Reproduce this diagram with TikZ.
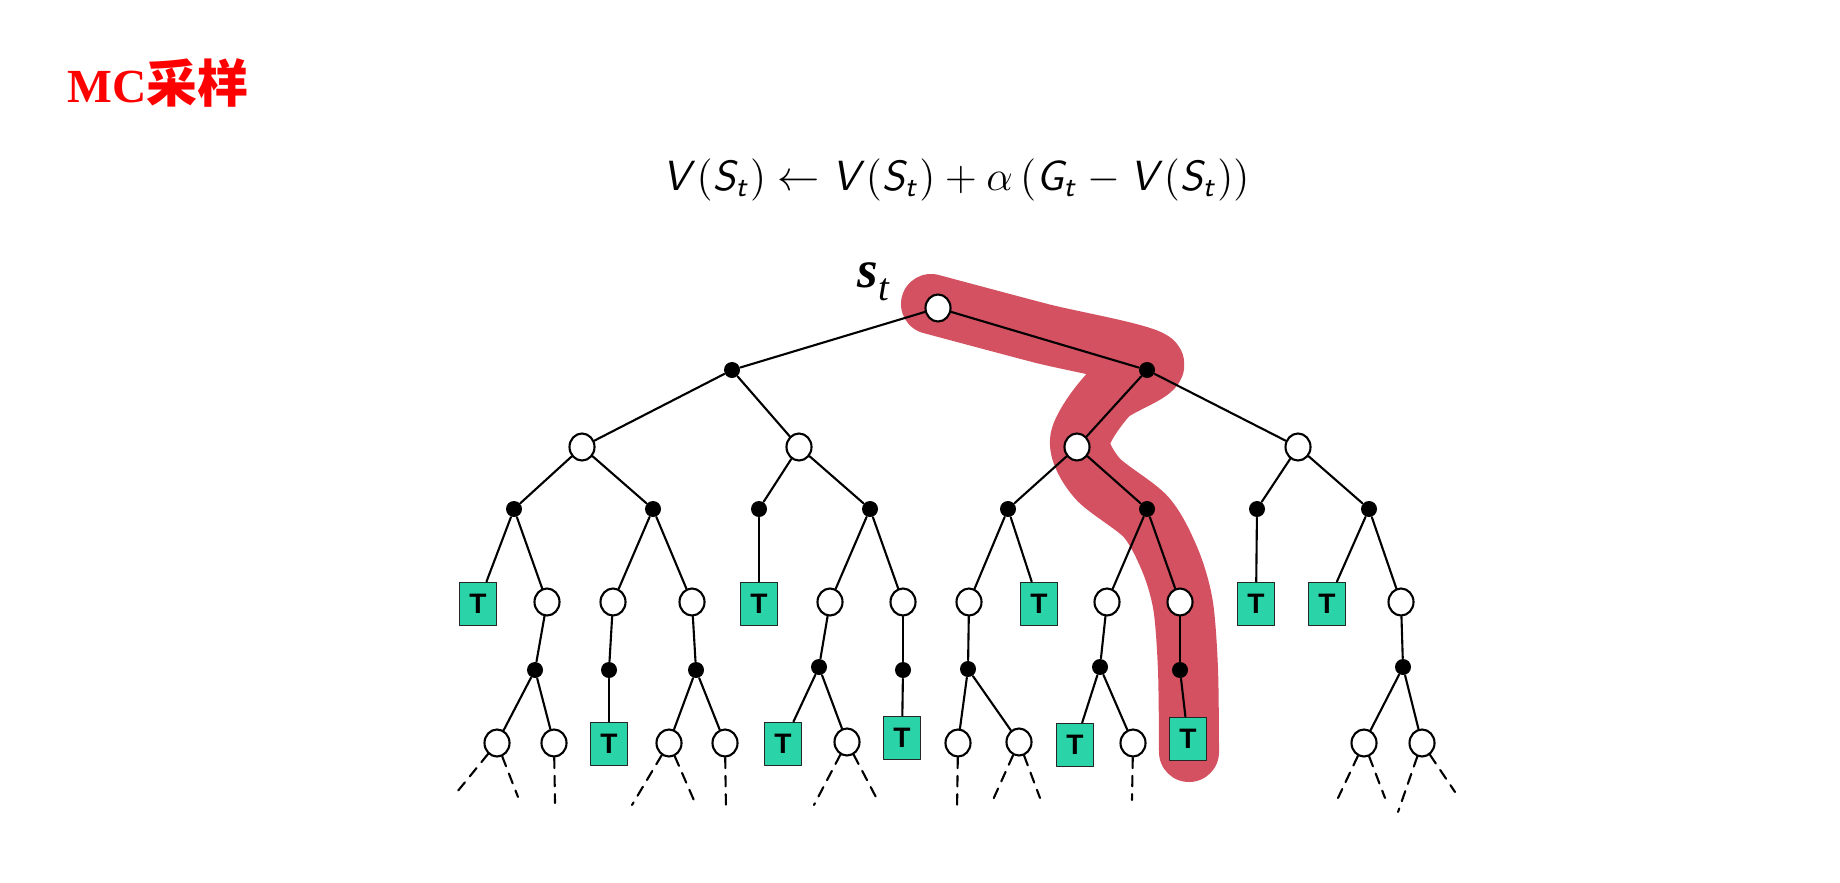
\documentclass[tikz,border=0pt]{standalone}
\usepackage[no-math]{fontspec}
\setmainfont{Liberation Serif}
\newfontfamily\cjkfont{Noto Sans CJK SC}
\newfontfamily\arialfont{Liberation Sans}
\DeclareMathAlphabet{\mathsfit}{OT1}{cmss}{m}{sl}
\usetikzlibrary{shapes.geometric}

\begin{document}
\begin{tikzpicture}[x=0.01cm, y=-0.01cm, line cap=round, line join=round,
  snode/.style={ellipse, draw, fill=white, line width=0.6pt, minimum width=0.25cm, minimum height=0.27cm, inner sep=0pt},
  cnode/.style={circle, fill=black, minimum size=0.16cm, inner sep=0pt},
  tnode/.style={rectangle, draw=black!85, fill=termgreen, line width=0.5pt, minimum width=0.37cm, minimum height=0.43cm, inner sep=0pt, font=\arialfont\bfseries\fontsize{8}{8}\selectfont},
  link/.style={line width=0.6pt},
  dashlink/.style={line width=0.6pt, dash pattern=on 3pt off 2.2pt},
  hilite/.style={line width=0.6cm, draw=hired}]
  \definecolor{termgreen}{RGB}{42,212,168}
  \definecolor{hired}{RGB}{211,81,96}
  \fill[white] (0,0) rectangle (1840,882);
  \useasboundingbox (0,0) rectangle (1840,882);

  \node[anchor=base west, inner sep=0pt, text=red, font=\bfseries\fontsize{13.5}{17}\selectfont] (title) at (67,103) {MC{\cjkfont\fontsize{14.5}{17}\selectfont 采样}};
  \node[anchor=base, font=\fontsize{12.1}{15}\selectfont] (eq) at (956,190)
    {$\mathsfit{V}\mathsf{(}\mathsfit{S}_{\mathsfit{t}}\mathsf{)} \leftarrow \mathsfit{V}\mathsf{(}\mathsfit{S}_{\mathsfit{t}}\mathsf{)} + \alpha\,\mathsf{(}\mathsfit{G}_{\mathsfit{t}} - \mathsfit{V}\mathsf{(}\mathsfit{S}_{\mathsfit{t}}\mathsf{))}$};

  \draw[hilite] plot[smooth, tension=0.5] coordinates {(931,304) (1040,333) (1153,362) (1108,395) (1080,440) (1097,478) (1146,517) (1170,560) (1183,605) (1188,670) (1189,752)};

  \node[snode] (r) at (938,308) {};
  \node[anchor=base west, inner sep=0pt] (stlabel) at (857,287)
    {{\bfseries\itshape\fontsize{15}{15}\selectfont s}\raisebox{-3.7pt}{\itshape\fontsize{11}{11}\selectfont t}};
  \node[cnode] (L) at (732,370) {};
  \node[cnode] (R) at (1147,370) {};
  \node[snode] (A) at (582,447) {};
  \node[snode] (B) at (799,447) {};
  \node[snode] (C) at (1077,447) {};
  \node[snode] (D) at (1298,447) {};
  \foreach \n/\x in {a1/514, a2/653, b1/759, b2/870, c1/1008, c2/1147, d1/1257, d2/1369}
    \node[cnode] (\n) at (\x,509) {};
  \foreach \n/\x in {a1o/547, a2o/613, a2p/692, b2o/830, b2p/903, c1o/969, c2o/1107, c2p/1180, d2o/1401}
    \node[snode] (\n) at (\x,602) {};
  \foreach \n/\x in {a1T/478, b1T/759, c1T/1039, d1T/1256, d2T/1327}
    \node[tnode] (\n) at (\x,604) {T};
  \foreach \n/\x/\y in {e1/535/670, e2/609/670, e3/696/670, e4/819/667, e5/903/670, e6/968/669, e7/1100/667, e8/1180/670, e9/1403/667}
    \node[cnode] (\n) at (\x,\y) {};
  \foreach \n/\x/\y in {f1/497/743, f2/554/743, f4/669/743, f5/725/743, f7/847/742, f9/958/743, f10/1019/742, f12/1133/743, f14/1364/743, f15/1422/743}
    \node[snode] (\n) at (\x,\y) {};
  \foreach \n/\x/\y in {f3/609/744, f6/783/744, f8/902/738, f11/1075/745, f13/1188/739}
    \node[tnode] (\n) at (\x,\y) {T};

  \foreach \a/\b in {r/L, r/R, L/A, L/B, R/C, R/D, A/a1, A/a2, B/b1, B/b2, C/c1, C/c2, D/d1, D/d2,
      a1/a1T, a1/a1o, a2/a2o, a2/a2p, b1/b1T, b2/b2o, b2/b2p, c1/c1o, c1/c1T, c2/c2o, c2/c2p, d1/d1T, d2/d2T, d2/d2o,
      a1o/e1, a2o/e2, a2p/e3, b2o/e4, b2p/e5, c1o/e6, c2o/e7, c2p/e8, d2o/e9,
      e1/f1, e1/f2, e2/f3, e3/f4, e3/f5, e4/f6, e4/f7, e5/f8, e6/f9, e6/f10, e7/f11, e7/f12, e8/f13, e9/f14, e9/f15}
    \draw[link] (\a) -- (\b);

  \foreach \n/\x/\y in {g1/457/792, g2/518/797, g3/555/803, g4/632/805, g5/696/805, g6/726/810, g7/814/805, g8/878/801,
      g9/957/810, g10/992/802, g11/1040/798, g12/1132/800, g13/1338/798, g14/1385/798, g15/1398/812, g16/1455/792}
    \coordinate (\n) at (\x,\y);
  \foreach \a/\b in {f1/g1, f1/g2, f2/g3, f4/g4, f4/g5, f5/g6, f7/g7, f7/g8, f9/g9, f10/g10, f10/g11, f12/g12, f14/g13, f14/g14, f15/g15, f15/g16}
    \draw[dashlink] (\a) -- (\b);
\end{tikzpicture}
\end{document}
